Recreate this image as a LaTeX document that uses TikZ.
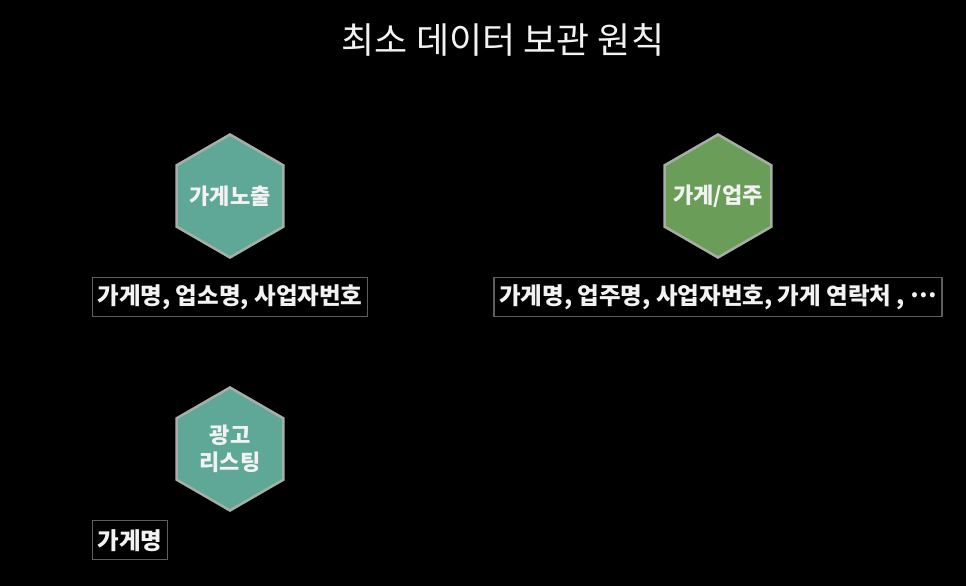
\documentclass[tikz,border=0pt]{standalone}
\usepackage{fontspec}
\usepackage{xcolor}
\usepackage{tikz}
\usetikzlibrary{shapes.geometric, positioning, calc}
\setmainfont{Noto Sans CJK KR}
\definecolor{tealfill}{HTML}{5FA898}
\definecolor{greenfill}{HTML}{6A9E58}
\definecolor{hexstroke}{HTML}{A7AEA7}
\definecolor{boxstroke}{HTML}{5E5E5E}
\definecolor{textcolor}{HTML}{F2F2F2}

\begin{document}
\begin{tikzpicture}[
        x=1pt, y=-1pt,
        hexa/.style={
            regular polygon,
            regular polygon sides=6,
            shape border rotate=30,
            minimum size=123pt,
            inner sep=-20pt,
            draw=hexstroke,
            line width=2.5pt,
            align=center,
            text=textcolor,
            font=\bfseries\fontsize{22}{27}\selectfont
        },
        fieldbox/.style={
            rectangle,
            draw=boxstroke,
            line width=1.5pt,
            minimum height=39pt,
            inner xsep=5pt,
            text=textcolor,
            font=\bfseries\fontsize{23.5}{28}\selectfont
        }
    ]
        % Background
        \fill[black] (0,0) rectangle (966,586);
        \useasboundingbox (0,0) rectangle (966,586);

        % Title
        \node[text=textcolor, font=\fontsize{36}{40}\selectfont] (title) at (503,40) {최소 데이터 보관 원칙};

        % Hexagons
        \node[hexa, fill=tealfill] (expose) at (230,196) {가게노출};
        \node[hexa, fill=greenfill] (owner) at (718,196) {가게/업주};
        \node[hexa, fill=tealfill] (listing) at (230,449) {광고\\리스팅};

        % Data fields
        \node[fieldbox, below=18pt of expose] (shop) {가게명, 업소명, 사업자번호};
        \node[fieldbox, below=18pt of owner] (ownerdata) {가게명, 업주명, 사업자번호, 가게 연락처 , \raisebox{0.3em}{…}};
        \node[fieldbox, anchor=north west] (listdata) at ($(listing.south -| shop.west)+(0,8)$) {가게명};

    \end{tikzpicture}
\end{document}
